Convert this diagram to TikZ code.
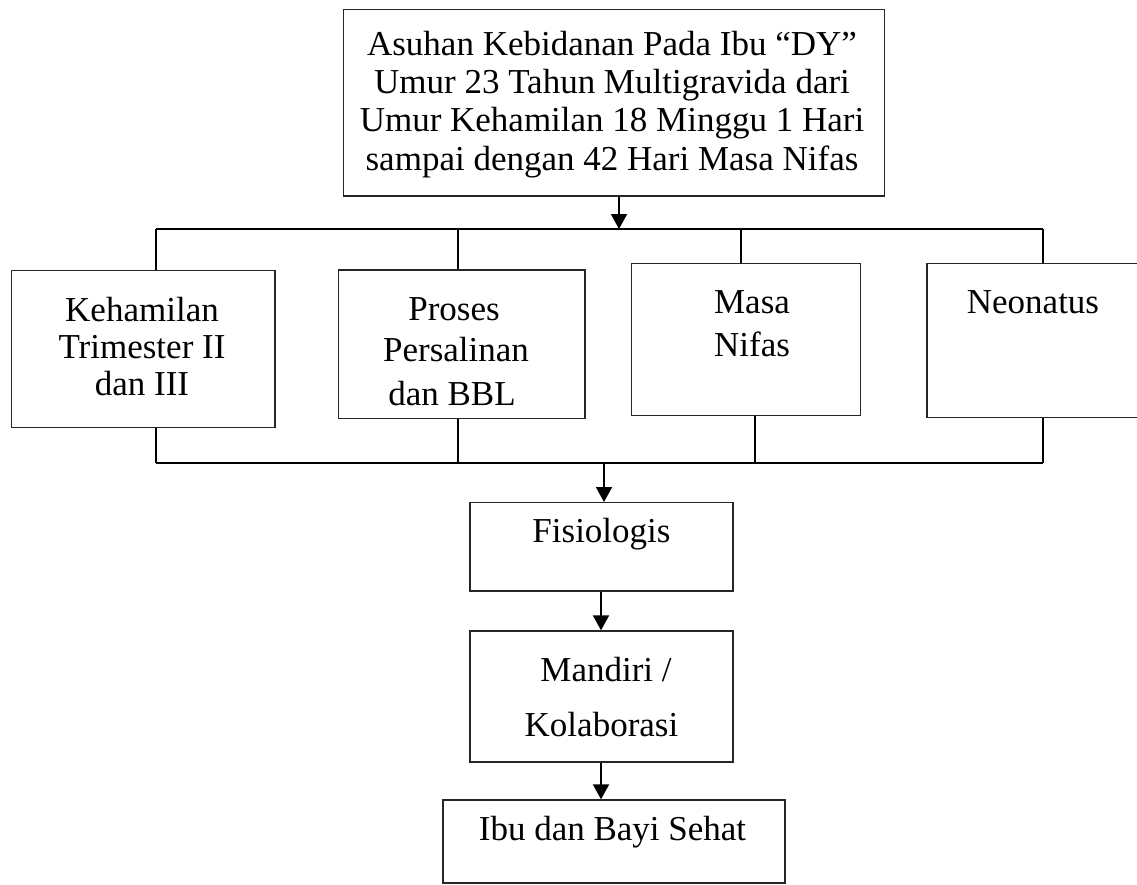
\documentclass[tikz,border=0pt]{standalone}
\usepackage{fontspec}
\setmainfont{Liberation Serif}
\usetikzlibrary{arrows.meta}
\begin{document}
\begin{tikzpicture}[x=1pt,y=-1pt,
  box/.style={draw=black!85,line width=1.4pt,inner sep=0pt,fill=none},
  txt/.style={inner sep=0pt,anchor=base,font=\fontsize{35}{40}\selectfont},
  wire/.style={line width=2pt,black},
  arr/.style={wire,-{Triangle[length=15pt,width=16pt]}}]
\useasboundingbox (0,0) rectangle (1137,884);
\clip (0,0) rectangle (1137,884);
\fill[white] (0,0) rectangle (1137,884);
% boxes
\node[box,minimum width=540.7pt,minimum height=186.7pt] (top) at (614,102.65) {};
\node[box,minimum width=263.3pt,minimum height=156.6pt] (keh) at (143.15,349) {};
\node[box,minimum width=246.1pt,minimum height=148.3pt] (pro) at (461.75,344.15) {};
\node[box,minimum width=229.1pt,minimum height=152.4pt] (mas) at (746.05,339.5) {};
\node[box,minimum width=214pt,minimum height=154.4pt] (neo) at (1034,340.5) {};
\node[box,minimum width=263pt,minimum height=88.3pt] (fis) at (601.5,546.85) {};
\node[box,minimum width=263pt,minimum height=131pt] (man) at (601.5,696.5) {};
\node[box,minimum width=342pt,minimum height=83pt] (ibu) at (614,841.5) {};
% texts
\node[txt] (top1) at (612,55) {Asuhan Kebidanan Pada Ibu “DY”};
\node[txt] (top2) at (612,93.3) {Umur 23 Tahun Multigravida dari};
\node[txt] (top3) at (612,131.7) {Umur Kehamilan 18 Minggu 1 Hari};
\node[txt] (top4) at (612,170) {sampai dengan 42 Hari Masa Nifas};
\node[txt] (keh1) at (142,321.7) {Kehamilan};
\node[txt] (keh2) at (142,358.3) {Trimester II};
\node[txt] (keh3) at (142,395) {dan III};
\node[txt] (pro1) at (454,320) {Proses};
\node[txt] (pro2) at (456,361) {Persalinan};
\node[txt] (pro3) at (452,405) {dan BBL};
\node[txt] (mas1) at (752,313.3) {Masa};
\node[txt] (mas2) at (752,356) {Nifas};
\node[txt] (neo1) at (1033,313.3) {Neonatus};
\node[txt] (fis1) at (601.5,542.7) {Fisiologis};
\node[txt] (man1) at (606,681.7) {Mandiri /};
\node[txt] (man2) at (601.5,736) {Kolaborasi};
\node[txt] (ibu1) at (612.5,840) {Ibu dan Bayi Sehat};
% bus coordinates
\coordinate (tA) at (619,229);
\coordinate (tL) at (156,229);
\coordinate (tR) at (1043,229);
\coordinate (t2) at (458,229);
\coordinate (t3) at (741,229);
\coordinate (bL) at (156,463);
\coordinate (bR) at (1043,463);
\coordinate (b2) at (458,463);
\coordinate (b3) at (755,463);
\coordinate (bA) at (604,463);
% connectors
\draw[arr] (top.south -| tA) -- (tA);
\draw[wire] (tL) -- (tR);
\draw[wire] (tL) -- (tL |- keh.north);
\draw[wire] (t2) -- (t2 |- pro.north);
\draw[wire] (t3) -- (t3 |- mas.north);
\draw[wire] (tR) -- (tR |- neo.north);
\draw[wire] (bL |- keh.south) -- (bL);
\draw[wire] (b2 |- pro.south) -- (b2);
\draw[wire] (b3 |- mas.south) -- (b3);
\draw[wire] (bR |- neo.south) -- (bR);
\draw[wire] (bL) -- (bR);
\draw[arr] (bA) -- (bA |- fis.north);
\draw[arr] (fis.south -| 601,0) -- (man.north -| 601,0);
\draw[arr] (man.south -| 601,0) -- (ibu.north -| 601,0);
\end{tikzpicture}
\end{document}
